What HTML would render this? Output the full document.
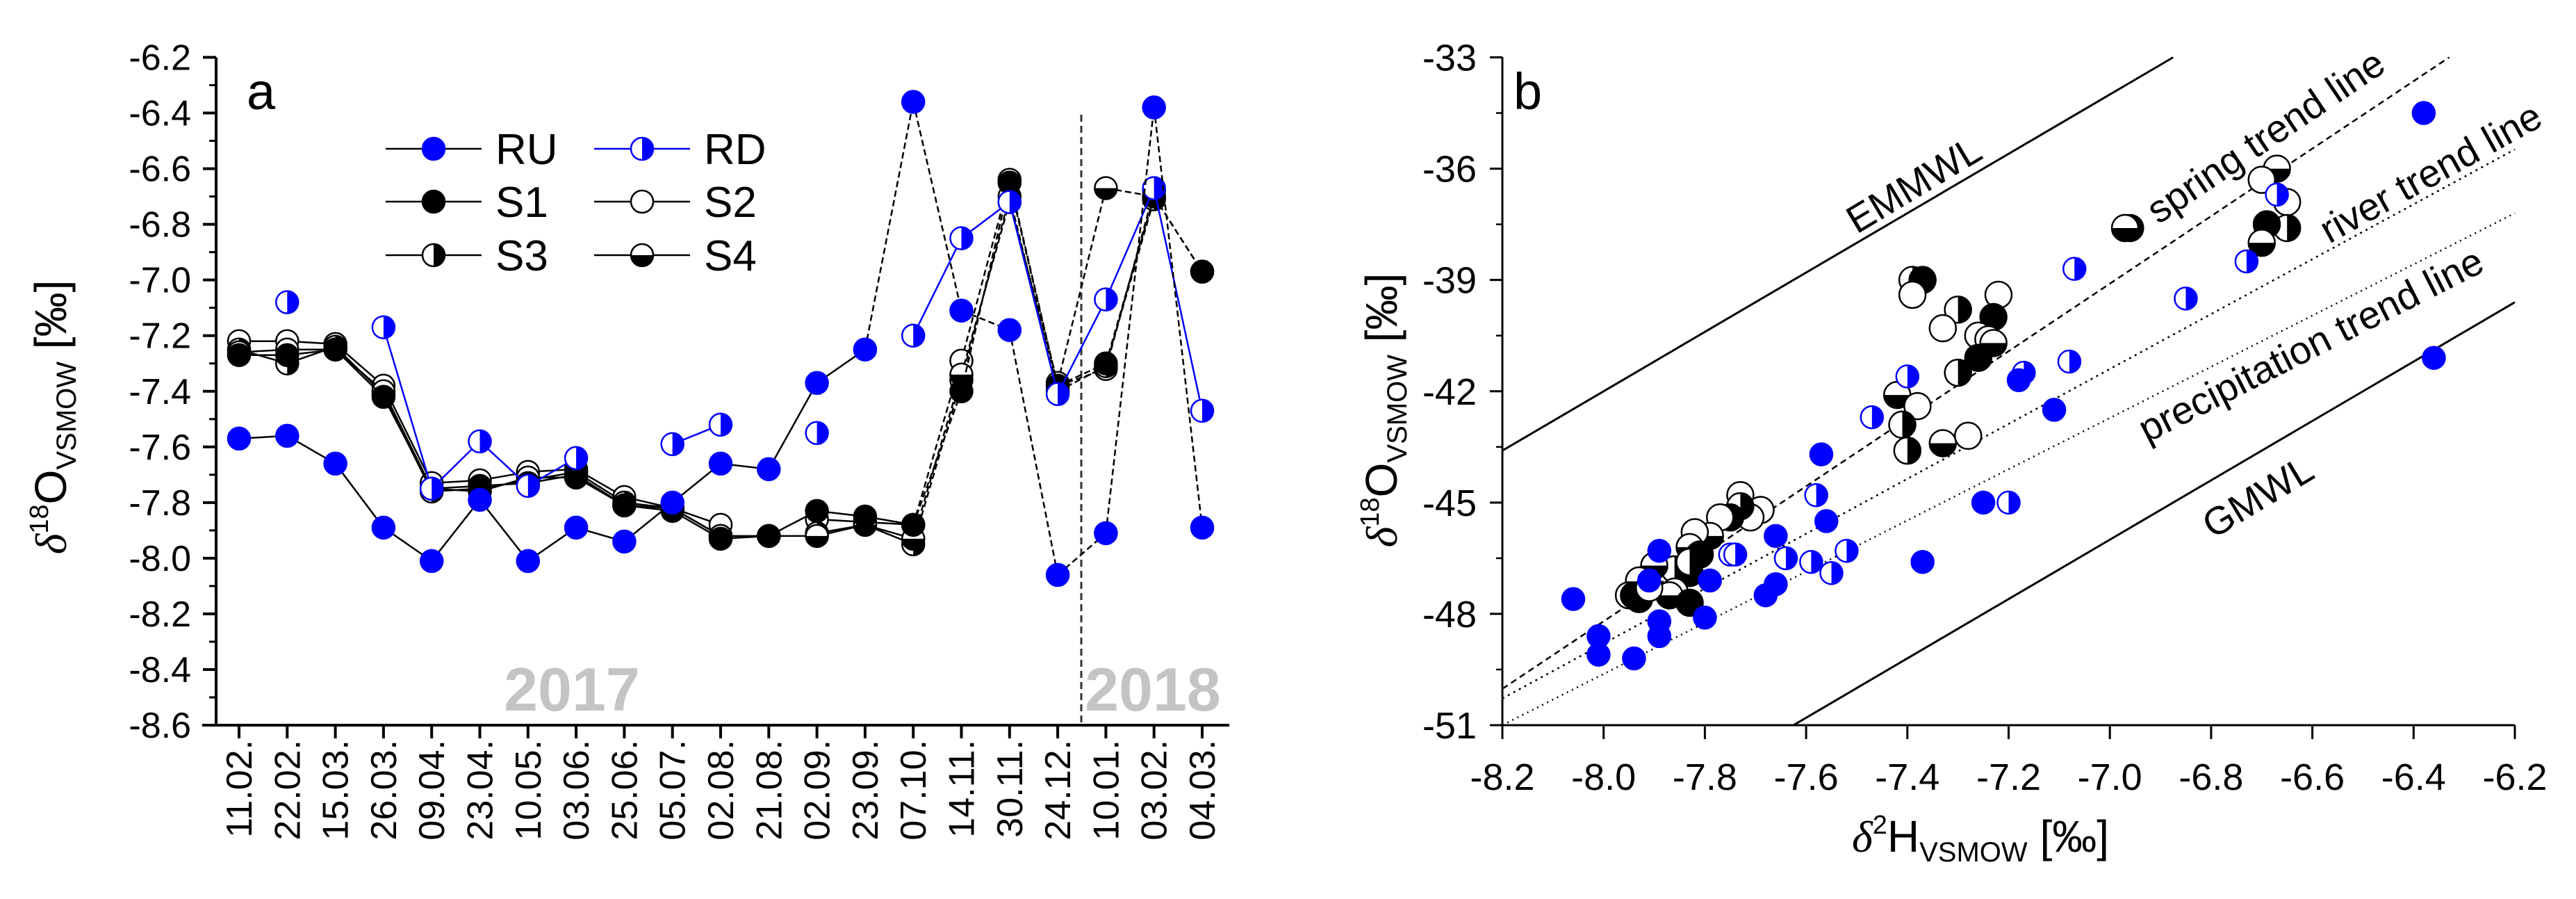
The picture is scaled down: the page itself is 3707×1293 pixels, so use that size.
<!DOCTYPE html>
<html><head><meta charset="utf-8"><style>
html,body{margin:0;padding:0;background:#fff;}
svg{display:block;font-family:"Liberation Sans",Arial,sans-serif;}
</style></head><body>
<svg id="chart" width="3707" height="1293" viewBox="0 0 3707 1293" xmlns="http://www.w3.org/2000/svg">
<rect width="3707" height="1293" fill="#fff"/>
<g id="pa"></g>
<g id="pb"></g>
</svg>
<script>
// ---------- Panel a data ----------
const dates = ["11.02.","22.02.","15.03.","26.03.","09.04.","23.04.","10.05.","03.06.","25.06.","05.07.","02.08.","21.08.","02.09.","23.09.","07.10.","14.11.","30.11.","24.12.","10.01.","03.02.","04.03."];
const ruVals = [-7.57,-7.56,-7.66,-7.89,-8.01,-7.79,-8.01,-7.89,-7.94,-7.80,-7.66,-7.68,-7.37,-7.25,-6.36,-7.11,-7.18,-8.06,-7.91,-6.38,-7.89];
const rdVals = [null,-7.08,null,-7.17,-7.75,-7.58,-7.74,-7.64,null,-7.59,-7.52,null,-7.55,null,-7.20,-6.85,-6.72,-7.41,-7.07,-6.67,-7.47];
const s1Vals = [-7.27,-7.27,-7.25,-7.42,-7.75,-7.74,-7.73,-7.70,-7.81,-7.83,-7.93,-7.92,-7.83,-7.85,-7.88,-7.40,-6.65,-7.38,-7.30,-6.70,-6.97];
const s2Vals = [-7.22,-7.22,-7.23,-7.38,-7.73,-7.72,-7.69,-7.68,-7.78,-7.82,-7.88,null,-7.86,-7.87,-7.88,-7.29,-6.64,-7.38,-7.32,-6.68,null];
const s3Vals = [-7.25,-7.30,-7.24,-7.41,-7.76,-7.75,-7.72,-7.69,-7.80,-7.82,-7.92,null,-7.91,-7.88,-7.95,-7.36,-6.70,-7.40,-7.31,-6.71,null];
const s4Vals = [-7.26,-7.25,-7.25,-7.40,-7.75,-7.76,-7.71,-7.71,-7.81,-7.82,-7.92,-7.92,-7.92,-7.88,-7.93,-7.34,-6.72,-7.37,-6.67,-6.70,-6.97];
const aYTicks = [-6.2,-6.4,-6.6,-6.8,-7.0,-7.2,-7.4,-7.6,-7.8,-8.0,-8.2,-8.4,-8.6];

// ---------- Panel b data ----------
const ruX = [-6.38,-6.36,-7.57,-7.56,-7.66,-7.37,-7.25,-7.11,-7.18,-7.68,-7.66,-7.79,-7.80,-7.89,-7.89,-8.01,-8.01,-7.94,-8.06,-7.91,-7.89];
const ruY = [-34.5,-41.1,-43.7,-45.5,-45.9,-46.6,-45.0,-42.5,-41.7,-47.5,-47.2,-47.1,-48.1,-48.2,-48.6,-48.6,-49.1,-49.2,-47.6,-47.1,-46.3];
const rdX = [-7.07,-6.85,-6.73,-6.67,-7.08,-7.17,-7.40,-7.47,-7.58,-7.75,-7.74,-7.64,-7.59,-7.55,-7.52,-7.20];
const rdY = [-38.7,-39.5,-38.5,-36.7,-41.2,-41.5,-41.6,-42.7,-44.8,-46.4,-46.4,-46.5,-46.6,-46.9,-46.3,-45.0];
const spX = [-6.96,-6.97,-6.67,-6.70,-6.65,-6.65,-6.69,-6.70,-7.39,-7.37,-7.39,-7.30,-7.22,-7.23,-7.33,-7.26,-7.24,-7.23,-7.26,-7.30,-7.42,-7.38,-7.41,-7.40,-7.33,-7.28,-7.73,-7.69,-7.71,-7.73,-7.75,-7.77,-7.79,-7.82,-7.83,-7.81,-7.86,-7.83,-7.86,-7.87,-7.90,-7.93,-7.95,-7.93,-7.94,-7.83,-7.91,-7.83];
const spY = [-37.6,-37.6,-36.0,-36.3,-36.9,-37.6,-37.5,-38.0,-39.0,-39.0,-39.4,-39.8,-39.4,-40.0,-40.3,-40.5,-40.6,-40.7,-41.1,-41.5,-42.1,-42.4,-42.9,-43.6,-43.4,-43.2,-44.8,-45.2,-45.4,-45.1,-45.4,-45.4,-45.9,-45.8,-46.2,-46.4,-46.8,-46.9,-47.4,-47.5,-46.7,-47.1,-47.5,-47.6,-47.5,-47.7,-47.3,-46.6];
const spType = ["S3","S4","S4","S2","S2","S3","S1","S4","S3","S1","S2","S3","S2","S1","S2","S2","S2","S4","S1","S3","S4","S2","S3","S3","S4","S2","S2","S2","S2","S3","S1","S2","S4","S2","S4","S1","S3","S1","S2","S4","S4","S2","S2","S4","S1","S1","S2","S3"];
const bXTicks = [-8.2,-8.0,-7.8,-7.6,-7.4,-7.2,-7.0,-6.8,-6.6,-6.4,-6.2];
const bYTicks = [-33,-36,-39,-42,-45,-48,-51];
// lines: slope, intercept (d18O = m*d2H + c)
const lineNames = ["EMMWL","spring","river","precip","GMWL"];
const lineSlopes = [8,9.1,7.4,6.9,8];
const lineIntercepts = [22,24.6,10.4,5.58,10];

const NS="http://www.w3.org/2000/svg";
function el(parent,tag,attrs){const e=document.createElementNS(NS,tag);for(const k in attrs)e.setAttribute(k,attrs[k]);parent.appendChild(e);return e;}
function txt(parent,x,y,s,size,extra){const t=el(parent,"text",Object.assign({x:x,y:y,"font-size":size,fill:"#000"},extra||{}));t.textContent=s;return t;}

function marker(g,type,cx,cy,r,color){
  const m=el(g,"g",{});
  const sw=2.5;
  if(type==="S1"||type==="RU"){el(m,"circle",{cx:cx,cy:cy,r:r,fill:color,stroke:color,"stroke-width":sw});}
  else if(type==="S2"){el(m,"circle",{cx:cx,cy:cy,r:r,fill:"#fff",stroke:color,"stroke-width":sw});}
  else if(type==="S3"||type==="RD"){
    el(m,"circle",{cx:cx,cy:cy,r:r,fill:"#fff",stroke:color,"stroke-width":sw});
    el(m,"path",{d:`M${cx},${cy-r}A${r},${r} 0 0 1 ${cx},${cy+r}Z`,fill:color});
  } else if(type==="S4"){
    el(m,"circle",{cx:cx,cy:cy,r:r,fill:"#fff",stroke:color,"stroke-width":sw});
    el(m,"path",{d:`M${cx-r},${cy}A${r},${r} 0 0 0 ${cx+r},${cy}Z`,fill:color});
  }
  return m;
}

// ================= Panel a =================
const pa=document.getElementById("pa");
const aL=311,aR=1769,aT=82.5,aB=1043;
const ax0=344,axStep=69.3;
const axX=i=>ax0+i*axStep;
const ayY=v=>aT+(-6.2-v)/2.4*(aB-aT);

// axes
el(pa,"line",{x1:aL,y1:aT,x2:aL,y2:aB,stroke:"#000","stroke-width":4});
el(pa,"line",{x1:aL-20,y1:aB,x2:aR,y2:aB,stroke:"#000","stroke-width":4});
aYTicks.forEach((v,i)=>{
  const y=ayY(v);
  el(pa,"line",{x1:aL-19,y1:y,x2:aL,y2:y,stroke:"#000","stroke-width":4});
  if(i<aYTicks.length-1){const y2=ayY(v-0.1);el(pa,"line",{x1:aL-10,y1:y2,x2:aL,y2:y2,stroke:"#000","stroke-width":3});}
  const t=txt(pa,275,y+18,v.toFixed(1),52,{"text-anchor":"end"});
  
  
});
dates.forEach((d,i)=>{
  const x=axX(i);
  el(pa,"line",{x1:x,y1:aB,x2:x,y2:aB+19,stroke:"#000","stroke-width":4});
  const t=txt(pa,0,0,d,52,{"text-anchor":"end",transform:`translate(${x+18},1064) rotate(-90)`});
  
  
});
// y title
const yta=el(pa,"text",{transform:"translate(95,600) rotate(-90)","text-anchor":"middle","font-size":64,fill:"#000"});
yta.innerHTML='<tspan font-style="italic" font-family="Liberation Serif, serif">δ</tspan><tspan font-size="38" dy="-26">18</tspan><tspan dy="26">O</tspan><tspan font-size="40" dy="14">VSMOW</tspan><tspan dy="-14"> [‰]</tspan>';


const la=txt(pa,355,157,"a",74);


// year divider
const dv=el(pa,"line",{x1:1556,y1:165,x2:1556,y2:aB,stroke:"#333","stroke-width":3,"stroke-dasharray":"10,6"});


const y1=txt(pa,823,1022,"2017",88,{"text-anchor":"middle","font-weight":"bold",fill:"#c4c4c4"});


const y2=txt(pa,1659,1022,"2018",88,{"text-anchor":"middle","font-weight":"bold",fill:"#c4c4c4"});



function seriesA(vals,type,color,lineColor,dashFrom,name){
  const g=el(pa,"g",{});
  
  
  for(let i=0;i<vals.length-1;i++){
    if(vals[i]==null||vals[i+1]==null)continue;
    const seg=el(g,"line",{x1:axX(i),y1:ayY(vals[i]),x2:axX(i+1),y2:ayY(vals[i+1]),stroke:lineColor,"stroke-width":2.5});
    if(i>=dashFrom)seg.setAttribute("stroke-dasharray","9,5");
  }
  vals.forEach((v,i)=>{if(v==null)return;
    const m=marker(g,type,axX(i),ayY(v),type==="RU"||type==="RD"?16:16,color);
    
    
  });
}
seriesA(s2Vals,"S2","#000","#000",14,"series-s2");
seriesA(s3Vals,"S3","#000","#000",14,"series-s3");
seriesA(s4Vals,"S4","#000","#000",14,"series-s4");
seriesA(s1Vals,"S1","#000","#000",14,"series-s1");
seriesA(rdVals,"RD","#0000ff","#0000ff",99,"series-rd");
seriesA(ruVals,"RU","#0000ff","#000",13,"series-ru");

// legend
const lg=el(pa,"g",{});


const legItems=[["RU","RU","#0000ff","#000",555,214],["RD","RD","#0000ff","#0000ff",855,214],["S1","S1","#000","#000",555,290],["S2","S2","#000","#000",855,290],["S3","S3","#000","#000",555,367],["S4","S4","#000","#000",855,367]];
legItems.forEach(it=>{
  const g=el(lg,"g",{});
  
  
  el(g,"line",{x1:it[4],y1:it[5],x2:it[4]+138,y2:it[5],stroke:it[3],"stroke-width":2.5});
  marker(g,it[1],it[4]+69,it[5],16,it[2]);
  txt(g,it[4]+158,it[5]+22,it[0],62);
});

// ================= Panel b =================
const pb=document.getElementById("pb");
const bL=2162,bR=3619,bT=82.5,bB=1043;
const bx=v=>bL+(v+8.2)/2*(bR-bL);
const by=v=>bT+(-33-v)/18*(bB-bT);

el(pb,"line",{x1:bL,y1:bT,x2:bL,y2:bB+20,stroke:"#000","stroke-width":3});
el(pb,"line",{x1:bL-18,y1:bB,x2:bR,y2:bB,stroke:"#000","stroke-width":3});
bYTicks.forEach((v,i)=>{
  const y=by(v);
  el(pb,"line",{x1:bL-18,y1:y,x2:bL,y2:y,stroke:"#000","stroke-width":3});
  if(i<bYTicks.length-1){const yy=by(v-1.5);el(pb,"line",{x1:bL-9,y1:yy,x2:bL,y2:yy,stroke:"#000","stroke-width":2.5});}
  const t=txt(pb,2125,y+19,String(v),54,{"text-anchor":"end"});
  
  
});
bXTicks.forEach(v=>{
  const x=bx(v);
  el(pb,"line",{x1:x,y1:bB,x2:x,y2:bB+20,stroke:"#000","stroke-width":3});
  const t=txt(pb,x,1136,v.toFixed(1),54,{"text-anchor":"middle"});
  
  
});
const ytb=el(pb,"text",{transform:"translate(2010,590) rotate(-90)","text-anchor":"middle","font-size":64,fill:"#000"});
ytb.innerHTML='<tspan font-style="italic" font-family="Liberation Serif, serif">δ</tspan><tspan font-size="38" dy="-26">18</tspan><tspan dy="26">O</tspan><tspan font-size="40" dy="14">VSMOW</tspan><tspan dy="-14"> [‰]</tspan>';


const xtb=el(pb,"text",{x:2850,y:1225,"text-anchor":"middle","font-size":64,fill:"#000"});
xtb.innerHTML='<tspan font-style="italic" font-family="Liberation Serif, serif">δ</tspan><tspan font-size="38" dy="-26">2</tspan><tspan dy="26">H</tspan><tspan font-size="40" dy="14">VSMOW</tspan><tspan dy="-14"> [‰]</tspan>';


const lb=txt(pb,2178,157,"b",74);



// reference lines
const dashes=["","9,6","3,6","2,6",""];
lineNames.forEach((n,i)=>{
  const m=lineSlopes[i],c=lineIntercepts[i];
  let xa=-8.2,xb=-6.2;
  // clip to y range
  const xAtTop=(-33-c)/m, xAtBot=(-51-c)/m;
  if(xAtBot>xa)xa=xAtBot;
  if(xAtTop<xb)xb=xAtTop;
  const ln=el(pb,"line",{x1:bx(xa),y1:by(m*xa+c),x2:bx(xb),y2:by(m*xb+c),stroke:"#000","stroke-width":i===0||i===4?3:2.5});
  if(dashes[i])ln.setAttribute("stroke-dasharray",dashes[i]);
  
  
});
const lineLabels=[["EMMWL",2764,264,-31],["spring trend line",3271,194,-34],["river trend line",3507,247,-29],["precipitation trend line",3334,495,-27],["GMWL",3259,713,-31]];
lineLabels.forEach(l=>{
  const t=txt(pb,0,0,l[0],56,{"text-anchor":"middle",transform:`translate(${l[1]},${l[2]+18}) rotate(${l[3]})`});
  
  
});

// points
spX.forEach((x,i)=>{
  const m=marker(pb,spType[i],bx(x),by(spY[i]),19,"#000");
  
  
});
rdX.forEach((x,i)=>{
  const m=marker(pb,"RD",bx(x),by(rdY[i]),16,"#0000ff");
  
  
});
ruX.forEach((x,i)=>{
  const m=marker(pb,"RU",bx(x),by(ruY[i]),16,"#0000ff");
  
  
});
</script>
</body></html>
